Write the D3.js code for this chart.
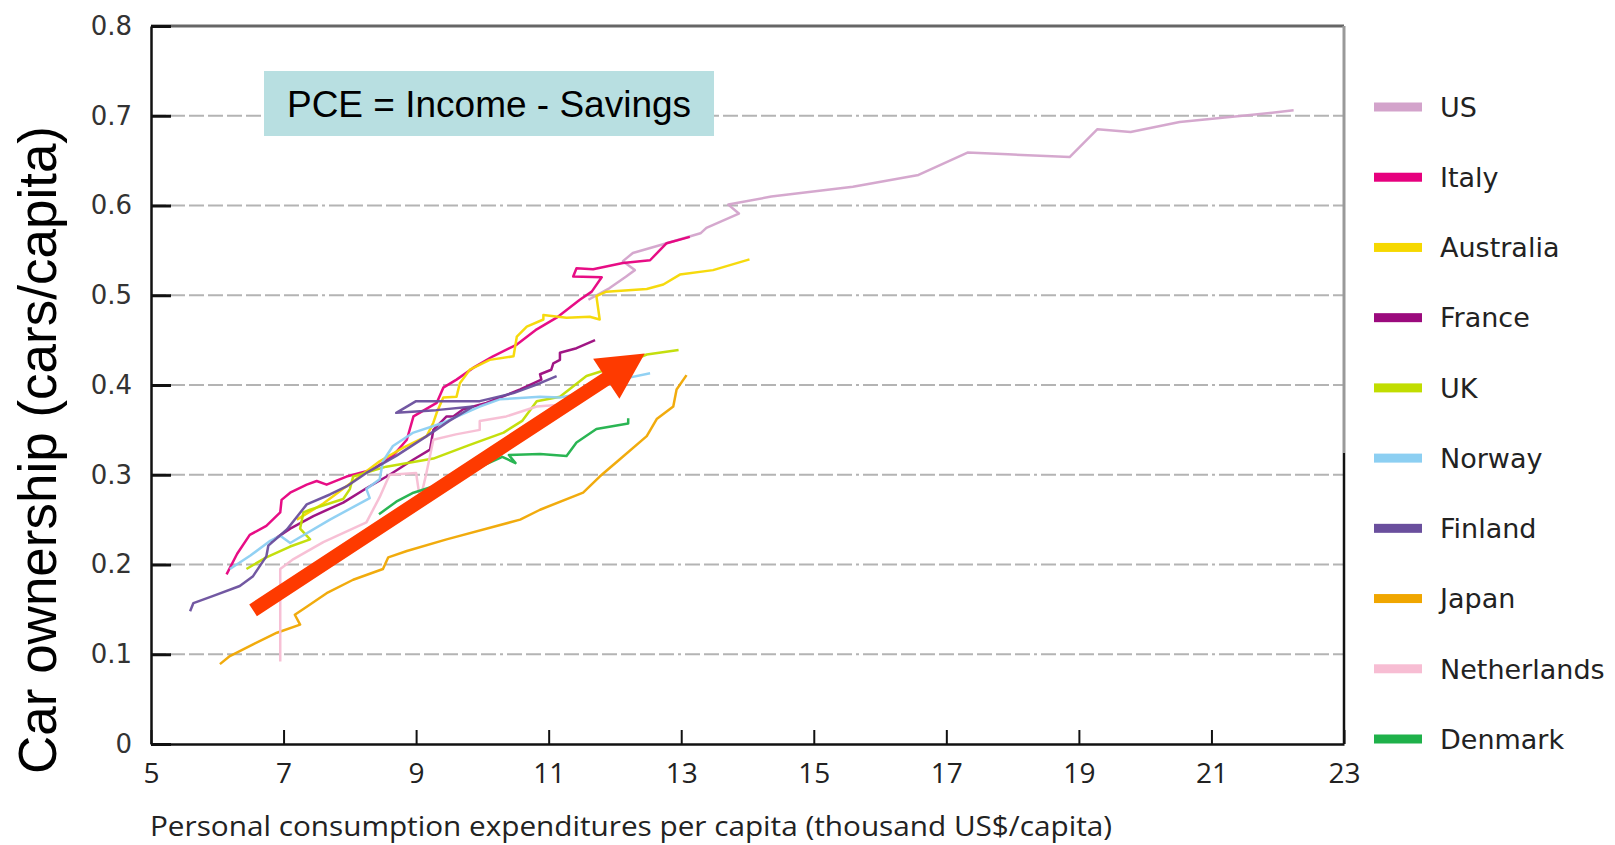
<!DOCTYPE html>
<html>
<head>
<meta charset="utf-8">
<script src="https://cdn.jsdelivr.net/npm/d3@7/dist/d3.min.js"></script>
<style>
  body { margin: 0; background: #fff; }
</style>
</head>
<body>
<div id="graph"></div>
<script>
/*******************************************************************************
* Data : [PCE thousand US$/capita, cars/capita]
*******************************************************************************/
var countries = ['US', 'Italy', 'Australia', 'France', 'UK', 'Norway', 'Finland', 'Japan', 'Netherlands', 'Denmark'];
var colors = ['#d3a3cb', '#e6007e', '#f6d800', '#9b0a7d', '#c1dd00', '#8ccff2', '#6a4f9d', '#f0a600', '#f7bdd3', '#1fb14a'];

var usData = [[11.6,0.495],[11.92,0.508],[12.17,0.521],[12.3,0.528],[12.12,0.538],[12.27,0.547],[12.78,0.558],
  [13.29,0.569],[13.38,0.575],[13.87,0.591],[13.71,0.601],[14.36,0.61],[15.59,0.621],[16.58,0.634],[17.32,0.659],
  [17.93,0.657],[18.86,0.654],[19.28,0.685],[19.78,0.682],[20.52,0.693],[21.62,0.701],[22.24,0.706]];
var italyData = [[6.14,0.189],[6.3,0.212],[6.49,0.233],[6.74,0.243],[6.95,0.258],[6.97,0.272],[7.1,0.28],[7.35,0.289],
  [7.5,0.293],[7.65,0.289],[7.95,0.298],[8.35,0.306],[8.65,0.321],[8.86,0.339],[8.96,0.365],[9.31,0.38],[9.41,0.397],
  [9.61,0.406],[9.86,0.419],[10.16,0.432],[10.52,0.445],[10.82,0.462],[11.12,0.475],[11.47,0.495],[11.65,0.504],
  [11.8,0.52],[11.37,0.521],[11.42,0.53],[11.67,0.529],[12.12,0.536],[12.53,0.539],[12.78,0.558],[13.13,0.565]];
var australiaData = [[7.2,0.25],[7.6,0.268],[8.0,0.29],[8.45,0.315],[8.8,0.33],[9.16,0.343],[9.26,0.358],[9.31,0.369],
  [9.41,0.386],[9.61,0.387],[9.66,0.402],[9.81,0.417],[10.11,0.428],[10.47,0.432],[10.52,0.454],[10.67,0.465],
  [10.92,0.473],[10.92,0.478],[11.27,0.475],[11.62,0.476],[11.77,0.473],[11.72,0.499],[11.87,0.504],[12.48,0.507],
  [12.73,0.512],[12.98,0.523],[13.48,0.528],[14.03,0.54]];
var franceData = [[6.8,0.225],[7.1,0.24],[7.45,0.254],[7.9,0.269],[8.25,0.285],[8.6,0.3],[8.96,0.317],[9.21,0.328],
  [9.26,0.35],[9.46,0.365],[9.56,0.365],[9.71,0.373],[10.06,0.38],[10.57,0.395],[10.89,0.406],[10.87,0.412],
  [11.04,0.417],[11.07,0.424],[11.17,0.428],[11.17,0.436],[11.42,0.441],[11.7,0.45]];
var ukData = [[6.44,0.195],[6.74,0.208],[7.1,0.22],[7.4,0.228],[7.25,0.24],[7.3,0.258],[7.4,0.261],[7.9,0.273],
  [8.0,0.284],[8.05,0.298],[8.55,0.309],[9.26,0.318],[9.8,0.333],[10.32,0.347],[10.6,0.36],[10.82,0.382],
  [11.17,0.387],[11.57,0.41],[12.0,0.42],[12.48,0.434],[12.96,0.439]];
var norwayData = [[6.19,0.195],[6.5,0.21],[6.79,0.226],[6.95,0.232],[7.1,0.224],[7.7,0.25],[8.3,0.274],[8.25,0.284],
  [8.45,0.295],[8.5,0.315],[8.65,0.332],[8.96,0.347],[9.41,0.358],[9.96,0.376],[10.26,0.384],[10.87,0.387],
  [11.17,0.386],[11.6,0.392],[12.07,0.406],[12.53,0.413]];
var finlandData = [[5.59,0.148],[5.64,0.157],[5.94,0.165],[6.34,0.176],[6.54,0.187],[6.74,0.209],[6.77,0.221],
  [7.05,0.239],[7.35,0.267],[7.7,0.278],[7.95,0.287],[8.25,0.302],[8.7,0.321],[9.16,0.343],[9.5,0.36],[9.86,0.376],
  [9.3,0.372],[8.7,0.369],[9.0,0.382],[9.96,0.382],[10.47,0.391],[10.87,0.402],[11.12,0.41]];
var japanData = [[6.04,0.089],[6.19,0.098],[6.54,0.111],[6.9,0.124],[7.25,0.133],[7.17,0.144],[7.35,0.153],
  [7.65,0.168],[8.05,0.183],[8.5,0.195],[8.58,0.208],[8.86,0.215],[9.46,0.228],[10.57,0.25],[10.87,0.261],
  [11.52,0.28],[11.77,0.298],[12.07,0.317],[12.48,0.343],[12.63,0.362],[12.88,0.376],[12.93,0.395],[13.08,0.411]];
var netherlandsData = [[6.95,0.092],[6.95,0.195],[7.15,0.206],[7.6,0.225],[8.25,0.247],[8.45,0.275],[8.6,0.3],
  [9.0,0.302],[9.06,0.272],[9.15,0.3],[9.26,0.339],[9.6,0.345],[9.96,0.35],[9.96,0.36],[10.36,0.365],[10.82,0.376],
  [11.17,0.378]];
var denmarkData = [[8.44,0.256],[8.7,0.27],[8.96,0.28],[9.6,0.295],[10.0,0.31],[10.3,0.32],[10.5,0.313],[10.4,0.322],
  [10.87,0.323],[11.27,0.321],[11.42,0.336],[11.72,0.351],[12.2,0.357],[12.2,0.363]];

var seriesData = [usData, italyData, australiaData, franceData, ukData, norwayData, finlandData, japanData, netherlandsData, denmarkData];

var xTicks = [5, 7, 9, 11, 13, 15, 17, 19, 21, 23];
var yTicks = [0, 0.1, 0.2, 0.3, 0.4, 0.5, 0.6, 0.7, 0.8];
var gridValues = [0.1, 0.2, 0.3, 0.4, 0.5, 0.6, 0.7];

// trend arrow, in data units (tail, tip)
var arrowStart = [6.54, 0.149];
var arrowEnd = [12.45, 0.435];

/*******************************************************************************
* Svg Container
*******************************************************************************/
var fullWidth = 1615;
var fullHeight = 845;

var container = d3.select("#graph").append("svg")
  .attr("width", fullWidth)
  .attr("height", fullHeight)
  .style("display", "block");

var x = d3.scaleLinear().domain([5, 23]).range([151, 1344]);
var y = d3.scaleLinear().domain([0, 0.8]).range([744, 26]);

/*******************************************************************************
* grid lines
*******************************************************************************/
container.append("g").selectAll("line")
  .data(gridValues)
  .enter()
  .append("line")
  .attr("x1", x(5))
  .attr("x2", x(23))
  .attr("y1", function(d){ return y(d); })
  .attr("y2", function(d){ return y(d); })
  .style("stroke", "#b4b4b4")
  .style("stroke-width", 2)
  .style("stroke-dasharray", "15,4,15,4,15,4,15,4,15,4,15,4,15,4,15,4,15,4,3,4");

/*******************************************************************************
* country lines
*******************************************************************************/
var line = d3.line()
  .x(function(d){ return x(d[0]); })
  .y(function(d){ return y(d[1]); });

container.append("g").selectAll("path")
  .data(seriesData)
  .enter()
  .append("path")
  .attr("d", line)
  .style("fill", "none")
  .style("stroke", function(d, i){ return colors[i]; })
  .style("stroke-width", 2.5)
  .style("stroke-linejoin", "round")
  .style("opacity", 0.95);

/*******************************************************************************
* arrow
*******************************************************************************/
var ax0 = x(arrowStart[0]), ay0 = y(arrowStart[1]);
var ax1 = x(arrowEnd[0]), ay1 = y(arrowEnd[1]);
var len = Math.sqrt((ax1 - ax0) * (ax1 - ax0) + (ay1 - ay0) * (ay1 - ay0));
var ux = (ax1 - ax0) / len, uy = (ay1 - ay0) / len;
var px = -uy, py = ux;
var headLen = 46, headHalf = 24, shaftHalf = 7;
var bx = ax1 - ux * headLen, by = ay1 - uy * headLen;
var arrowPts = [
  [ax0 + px * shaftHalf, ay0 + py * shaftHalf],
  [bx + px * shaftHalf, by + py * shaftHalf],
  [bx + px * headHalf, by + py * headHalf],
  [ax1, ay1],
  [bx - px * headHalf, by - py * headHalf],
  [bx - px * shaftHalf, by - py * shaftHalf],
  [ax0 - px * shaftHalf, ay0 - py * shaftHalf]
];
container.append("path")
  .attr("d", "M" + arrowPts.join("L") + "Z")
  .style("fill", "#fe3a00");

/*******************************************************************************
* annotation box
*******************************************************************************/
container.append("rect")
  .attr("x", 264)
  .attr("y", 71)
  .attr("width", 450)
  .attr("height", 65)
  .style("fill", "#b8dfe1");

container.append("text")
  .attr("x", 489)
  .attr("y", 117)
  .attr("text-anchor", "middle")
  .style("font-family", "'Liberation Sans', Arial, sans-serif")
  .style("font-size", "37px")
  .style("fill", "#000")
  .text("PCE = Income - Savings");

/*******************************************************************************
* frame and axes
*******************************************************************************/
container.append("line")
  .attr("x1", x(5)).attr("x2", x(23))
  .attr("y1", y(0.8)).attr("y2", y(0.8))
  .style("stroke", "#666").style("stroke-width", 3);
container.append("line")
  .attr("x1", x(23)).attr("x2", x(23))
  .attr("y1", y(0.8)).attr("y2", 453)
  .style("stroke", "#999").style("stroke-width", 3);
container.append("line")
  .attr("x1", x(23)).attr("x2", x(23))
  .attr("y1", 453).attr("y2", y(0))
  .style("stroke", "#111").style("stroke-width", 2.5);

var yAxis = container.append("g")
  .attr("transform", "translate(" + x(5) + ",0)")
  .call(d3.axisLeft(y)
    .tickValues(yTicks)
    .tickSizeInner(-20)
    .tickSizeOuter(0)
    .tickPadding(19)
    .tickFormat(function(d){ return d === 0 ? "0" : d3.format(".1f")(d); }));
yAxis.select(".domain").style("stroke", "#111").style("stroke-width", 2.5);
yAxis.selectAll(".tick line").style("stroke", "#111").style("stroke-width", 3);
yAxis.selectAll(".tick text")
  .style("font-family", "'DejaVu Sans', Verdana, sans-serif")
  .style("font-size", "26px")
  .style("fill", "#333");

var xAxis = container.append("g")
  .attr("transform", "translate(0," + y(0) + ")")
  .call(d3.axisBottom(x)
    .tickValues(xTicks)
    .tickSizeInner(-14)
    .tickSizeOuter(0)
    .tickPadding(19));
xAxis.select(".domain").style("stroke", "#111").style("stroke-width", 2.5);
xAxis.selectAll(".tick line").style("stroke", "#111").style("stroke-width", 2);
xAxis.selectAll(".tick text")
  .style("font-family", "'Open Sans', sans-serif")
  .style("font-size", "28px")
  .style("fill", "#222");

container.append("text")
  .attr("x", 150)
  .attr("y", 836)
  .attr("textLength", 962)
  .attr("lengthAdjust", "spacingAndGlyphs")
  .style("font-family", "'Open Sans', sans-serif")
  .style("font-size", "28px")
  .style("fill", "#222")
  .text("Personal consumption expenditures per capita (thousand US$/capita)");

container.append("text")
  .attr("transform", "translate(56,450) rotate(-90)")
  .attr("text-anchor", "middle")
  .style("font-family", "'Liberation Sans', Arial, sans-serif")
  .style("font-size", "53px")
  .style("fill", "#000")
  .text("Car ownership (cars/capita)");

/*******************************************************************************
* legend
*******************************************************************************/
var legendY = d3.scalePoint().domain(countries).range([107, 739]);

var legend = container.append("g").selectAll("g")
  .data(countries)
  .enter()
  .append("g")
  .attr("transform", function(d){ return "translate(1374," + legendY(d) + ")"; });

legend.append("rect")
  .attr("x", 0)
  .attr("y", -4.5)
  .attr("width", 48)
  .attr("height", 9)
  .style("fill", function(d, i){ return colors[i]; });

legend.append("text")
  .attr("x", 66)
  .attr("dy", "0.36em")
  .style("font-family", "'DejaVu Sans', Verdana, sans-serif")
  .style("font-size", "27px")
  .style("fill", "#222")
  .text(function(d){ return d; });
</script>
</body>
</html>
